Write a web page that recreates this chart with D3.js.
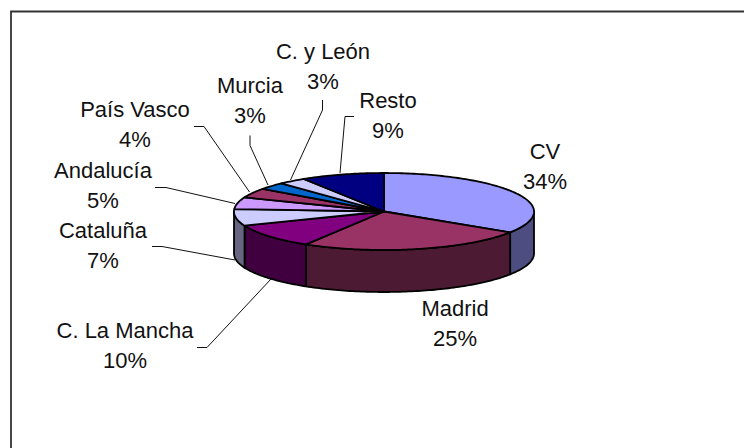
<!DOCTYPE html>
<html><head><meta charset="utf-8">
<script src="https://cdn.jsdelivr.net/npm/d3@7/dist/d3.min.js"></script>
<style>html,body{margin:0;padding:0;background:#fff;overflow:hidden}svg{display:block}text{font-family:"Liberation Sans",Arial,sans-serif;font-size:22px;fill:#111}</style>
</head><body><svg id="c" width="744" height="448"></svg>
<script>
const categories=["CV","Madrid","C. La Mancha","Cataluña","Andalucía","País Vasco","Murcia","C. y León","Resto"];
const values=[34.1,24.6,10.3,7,5,4,3,3,9];
const topColors=["#9999FF","#993366","#800080","#CCCCFF","#CC99FF","#993366","#0066CC","#CCCCFF","#000080"];
const sideColors=["#4D4D80","#4D1A33","#400040","#666680","#664D80","#4D1A33","#003366","#666680","#000040"];
const labelX=[545,455,125,103,103,135,250,323,388];
const labelY=[159,316,338,238,178,117,93,59,108];
const leaders=[null,null,
 [[197,347.5],[207,347.5],[271,279]],
 [[152,246.5],[162,246.5],[235,260]],
 [[155,187.5],[166,187.5],[235,203.5]],
 [[194,126.5],[204,126.5],[249.5,192]],
 [[250,135.5],[250,145.5],[268,185]],
 [[322.5,100],[322.5,110],[290.5,180]],
 [[354,116.5],[345,116.5],[340,173]]];
const svg=d3.select("#c");
svg.append("path").attr("d","M11,460V11.5H760").attr("fill","none").attr("stroke","#333").attr("stroke-width",1.8);
const cx=384,cy=211.5,rx=150,ry=38.5,depth=42;
const xs=d3.scaleLinear().domain([-1,1]).range([cx-rx,cx+rx]);
const ys=d3.scaleLinear().domain([-1,1]).range([cy-ry,cy+ry]);
const arcs=d3.pie().sort(null).value(d=>d)(values);
const line=d3.line();
const pt=(t,dy=0)=>[xs(Math.sin(t)),ys(-Math.cos(t))+dy];
const rim=(a,b,dy=0)=>{const n=Math.max(2,Math.ceil((b-a)/0.02));return d3.range(n+1).map(i=>pt(a+(b-a)*i/n,dy));};
const g=svg.append("g").attr("stroke","#000").attr("stroke-width",1.8).attr("stroke-linejoin","round");
arcs.forEach((d,i)=>{
  const a=Math.max(d.startAngle,Math.PI/2),b=Math.min(d.endAngle,Math.PI*1.5);
  if(b<=a)return;
  const pts=rim(a,b).concat(rim(a,b,depth).reverse());
  g.append("path").attr("d",line(pts)+"Z").attr("fill",sideColors[i]);
});
arcs.forEach((d,i)=>{
  const pts=[[cx,cy]].concat(rim(d.startAngle,d.endAngle));
  g.append("path").attr("d",line(pts)+"Z").attr("fill",topColors[i]);
});
leaders.forEach(l=>{if(l)svg.append("path").attr("d",line(l)).attr("fill","none").attr("stroke","#111").attr("stroke-width",1);});
categories.forEach((c,i)=>{
  const t=svg.append("text").attr("text-anchor","middle").attr("x",labelX[i]).attr("y",labelY[i]);
  t.append("tspan").attr("x",labelX[i]).text(c);
  t.append("tspan").attr("x",labelX[i]).attr("dy",29.5).text(Math.round(values[i])+"%");
});
</script></body></html>
